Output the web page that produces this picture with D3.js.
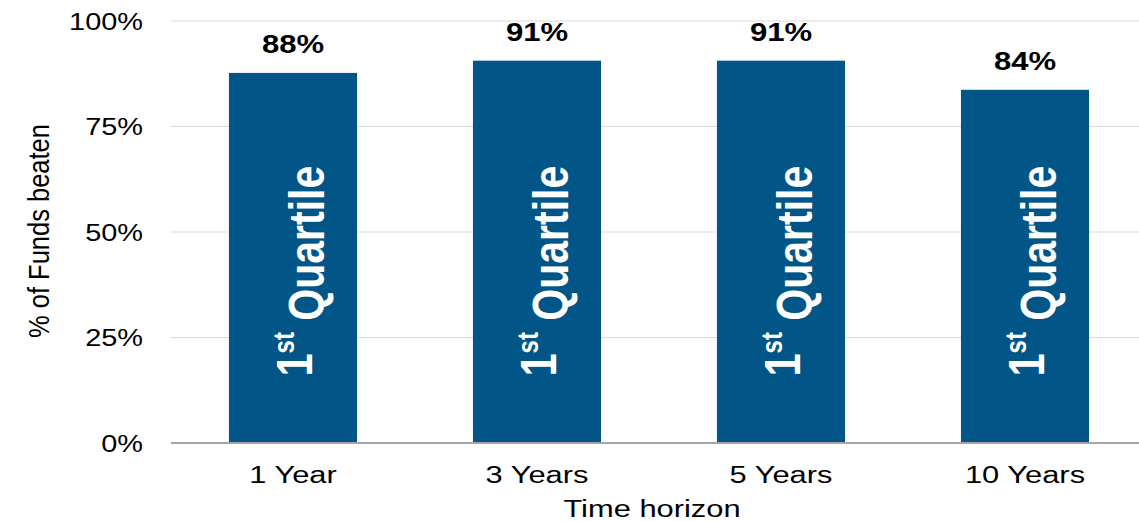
<!DOCTYPE html>
<html><head><meta charset="utf-8">
<script src="https://cdn.jsdelivr.net/npm/d3@7"></script>
<style>body{margin:0;background:#fff}svg{display:block;font-family:"Liberation Sans",Arial,sans-serif}</style>
</head><body><svg id="c" width="1139" height="521"></svg>
<script>
const categories = ["1 Year", "3 Years", "5 Years", "10 Years"];
const values = [87.7, 90.6, 90.6, 83.7];
const valueLabels = ["88%", "91%", "91%", "84%"];
const yTicks = [0, 25, 50, 75, 100];
const yTickLabels = ["0%", "25%", "50%", "75%", "100%"];
const barText = "Quartile";

const svg = d3.select("#c");
const W = 1139, H = 521;
const sx = 1.18;
const x = d3.scaleBand().domain(categories).range([171, 1147]).paddingInner(0.475).paddingOuter(0.2375);
const y = d3.scaleLinear().domain([0, 100]).range([443, 21]);

// gridlines
svg.append("g").selectAll("line").data(yTicks.filter(d => d > 0)).join("line")
  .attr("x1", 171).attr("x2", W).attr("y1", d => y(d)).attr("y2", d => y(d))
  .attr("stroke", "#d9d9d9").attr("stroke-width", 1);

// y tick labels
svg.append("g").selectAll("text").data(yTicks).join("text")
  .attr("transform", d => `translate(143,${y(d)}) scale(${sx},1)`)
  .attr("text-anchor", "end").attr("dy", "0.35em")
  .attr("font-size", 24.5).attr("fill", "#000")
  .text((d, i) => yTickLabels[i]);

// bars
svg.append("g").selectAll("rect").data(categories).join("rect")
  .attr("x", d => x(d)).attr("width", x.bandwidth())
  .attr("y", (d, i) => y(values[i])).attr("height", (d, i) => y(0) - y(values[i]))
  .attr("fill", "#025687");

// baseline
svg.append("line").attr("x1", 171).attr("x2", W).attr("y1", y(0)).attr("y2", y(0))
  .attr("stroke", "#a6a6a6").attr("stroke-width", 2);

// value labels
svg.append("g").selectAll("text").data(categories).join("text")
  .attr("transform", (d, i) => `translate(${x(d) + x.bandwidth() / 2},${y(values[i]) - 20}) scale(1.22,1)`)
  .attr("text-anchor", "middle").attr("font-size", 25.5).attr("font-weight", "bold").attr("fill", "#000")
  .text((d, i) => valueLabels[i]);

// in-bar rotated text
const bt = svg.append("g").selectAll("text").data(categories).join("text")
  .attr("transform", d => `translate(${x(d) + x.bandwidth() / 2 + 1},271) scale(1.22,1) rotate(-90)`)
  .attr("text-anchor", "middle").attr("dy", "0.36em")
  .attr("font-size", 41).attr("font-weight", "bold").attr("fill", "#fff");
bt.append("tspan").text("1");
bt.append("tspan").attr("font-size", 24).attr("dy", "-0.6em").text("st");
bt.append("tspan").attr("dy", "0.6em").text("\u00a0" + barText);

// x tick labels
svg.append("g").selectAll("text").data(categories).join("text")
  .attr("transform", d => `translate(${x(d) + x.bandwidth() / 2},483) scale(1.26,1)`)
  .attr("text-anchor", "middle").attr("font-size", 24.5).attr("fill", "#000")
  .text(d => d);

// axis titles
svg.append("text").attr("transform", `translate(652,517) scale(1.26,1)`)
  .attr("text-anchor", "middle").attr("font-size", 24.5).attr("fill", "#000").text("Time horizon");
svg.append("text").attr("transform", `translate(38,231) scale(${sx},1) rotate(-90)`)
  .attr("text-anchor", "middle").attr("dy", "0.35em").attr("font-size", 25.5).attr("fill", "#000").text("% of Funds beaten");
</script></body></html>
